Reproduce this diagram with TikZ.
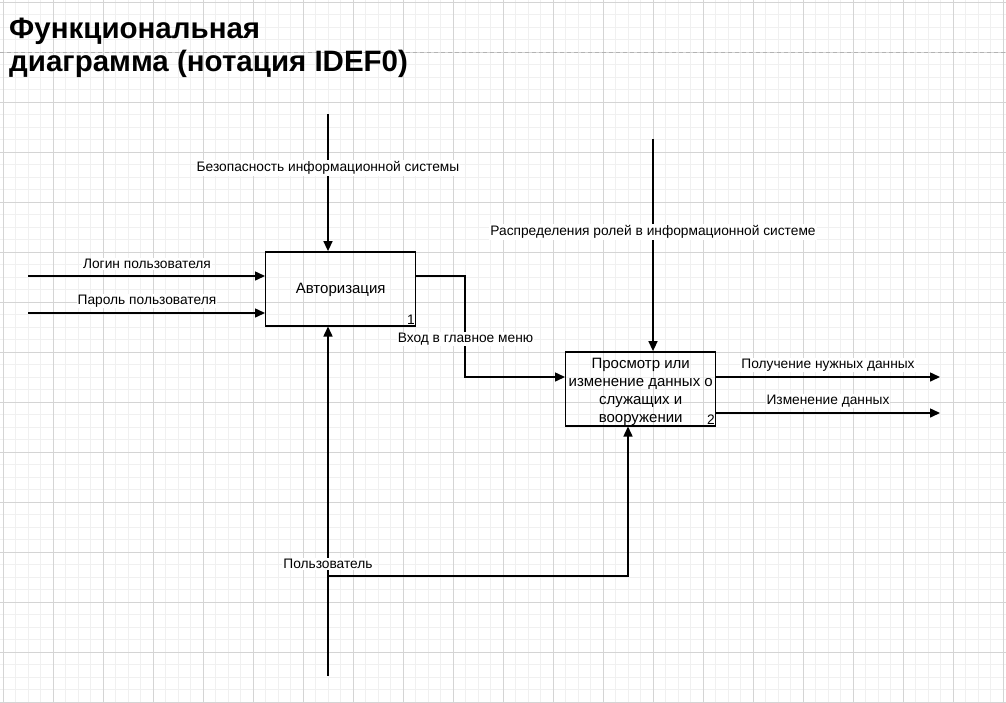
\documentclass[tikz,border=0pt]{standalone}
\usepackage{fontspec}
\setmainfont{Liberation Sans}
\usetikzlibrary{arrows.meta}

\begin{document}
\begin{tikzpicture}
	[x=1pt,y=-1pt,
	 arr/.style={line width=1.5pt,-{Triangle[length=10pt,width=9pt]}},
	 func/.style={draw,line width=1.4pt,minimum width=150pt,minimum height=74pt,inner sep=0pt},
	 boxtxt/.style={inner sep=0pt,align=center,font=\fontsize{15}{18}\selectfont},
	 lbl/.style={font=\fontsize{13.75}{16}\selectfont,inner sep=1pt,fill=white},
	 num/.style={font=\fontsize{13.75}{16}\selectfont,anchor=south east,inner sep=1.5pt},
	 ttl/.style={anchor=base west,inner sep=0pt,font=\fontsize{29.5}{33}\selectfont\bfseries}]

\useasboundingbox (0,0) rectangle (1006,702);

	% grid
	\foreach \ii in {0,...,80}
	{
	 \draw[black!6,line width=0.8pt] (3+12.5*\ii,0)--++(0,702);
	}
	\foreach \jj in {0,...,56}
	{
	 \draw[black!6,line width=0.8pt] (0,2+12.5*\jj)--++(1006,0);
	}
	\foreach \ii in {0,...,20}
	{
	 \draw[black!17,line width=0.8pt] (3+50*\ii,0)--++(0,702);
	}
	\foreach \jj in {0,...,14}
	{
	 \draw[black!17,line width=0.8pt] (0,2+50*\jj)--++(1006,0);
	}
	\draw[black!30,line width=0.8pt,dash pattern=on 4pt off 3pt] (0,52)--(1006,52);

	\node[ttl] (title1) at (9,38) {Функциональная};
	\node[ttl] (title2) at (9,71) {диаграмма (нотация IDEF0)};

	% blocks
	\node[func] (auth) at (340.7,288.8) {};
	\node[func] (view) at (640.7,388.8) {};
	\node[boxtxt] (authtxt) at ([yshift=-1.5pt]auth.center) {Авторизация};
	\node[boxtxt] (viewtxt) at ([yshift=-3.5pt]view.center) {Просмотр или\\изменение данных о\\служащих и\\вооружении};
	\node[num] (n1) at (auth.south east) {1};
	\node[num] (n2) at (view.south east) {2};

	% controls
	\coordinate (c1) at (328,114);
	\coordinate (c2) at (653,139);
	\draw[arr] (c1)--(c1 |- auth.north);
	\draw[arr] (c2)--(c2 |- view.north);
	\node[lbl] (c1lbl) at (328,168) {Безопасность информационной системы};
	\node[lbl] (c2lbl) at (653,232) {Распределения ролей в информационной системе};

	% inputs
	\coordinate (i1) at (28,276);
	\coordinate (i2) at (28,313);
	\draw[arr] (i1)--(i1 -| auth.west);
	\draw[arr] (i2)--(i2 -| auth.west);
	\node[lbl] (i1lbl) at (147,264) {Логин пользователя};
	\node[lbl] (i2lbl) at (147,301) {Пароль пользователя};

	% auth -> view
	\coordinate (o1) at (465,377);
	\draw[arr] (auth.east |- i1)-|(o1)--(o1 -| view.west);
	\node[lbl] (o1lbl) at (465.5,339) {Вход в главное меню};

	% outputs
	\coordinate (r1) at (940,377);
	\coordinate (r2) at (940,413);
	\draw[arr] (r1 -| view.east)--(r1);
	\draw[arr] (r2 -| view.east)--(r2);
	\node[lbl] (r1lbl) at (828,365) {Получение нужных данных};
	\node[lbl] (r2lbl) at (828,401) {Изменение данных};

	% mechanism
	\coordinate (m1) at (328,676);
	\coordinate (m2) at (628,576);
	\draw[arr] (m1)--(m1 |- auth.south);
	\draw[arr] (m1 |- m2)-|(m2 |- view.south);
	\node[lbl] (m1lbl) at (328,564) {Пользователь};

\end{tikzpicture}
\end{document}
